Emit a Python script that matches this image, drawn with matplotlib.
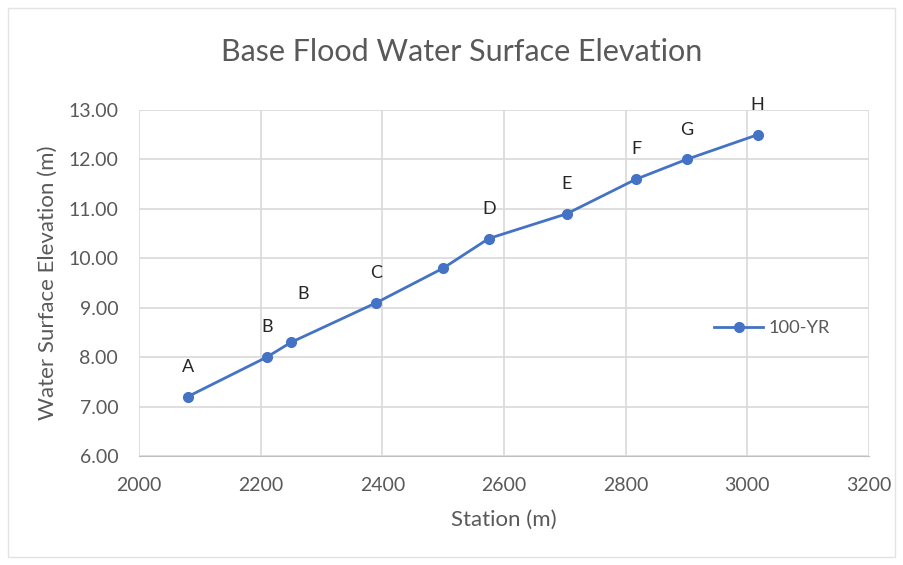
import matplotlib.pyplot as plt
from matplotlib.patches import Rectangle

station = [2080, 2210, 2250, 2390, 2500, 2575, 2703, 2817, 2900, 3017]
wse = [7.20, 8.00, 8.30, 9.10, 9.80, 10.40, 10.90, 11.60, 12.00, 12.50]
point_labels = ['A', 'B', 'B', 'C', '', 'D', 'E', 'F', 'G', 'H']
x_ticks = [2000, 2200, 2400, 2600, 2800, 3000, 3200]
y_ticks = [6, 7, 8, 9, 10, 11, 12, 13]

plt.rcParams['font.family'] = ['Lato', 'DejaVu Sans']

blue = '#4472C4'
grey_txt = '#595959'
grid_col = '#d9d9d9'

fig = plt.figure(figsize=(9.04, 5.65), dpi=100)
ax = fig.add_axes([139 / 904, 1 - 456 / 565, (869 - 139) / 904, (456 - 110) / 565])

# chart border
fig.patches.append(Rectangle((8 / 904, 8 / 565), 887 / 904, 549 / 565,
                             transform=fig.transFigure, fill=False,
                             edgecolor='#e3e3e3', linewidth=1.0))

ax.plot(station, wse, color=blue, linewidth=2.0, marker='o', markersize=7,
        markerfacecolor=blue, markeredgecolor=blue, label='100-YR', zorder=3)

# letters above the points (second B sits higher and to the right)
for i, (x, y, lab) in enumerate(zip(station, wse, point_labels)):
    if not lab:
        continue
    dx, dy = (8.5, 35) if i == 2 else (0, 21.5)
    ax.annotate(lab, (x, y), xytext=(dx, dy), textcoords='offset points',
                ha='center', va='center', fontsize=13, color='#262626')

ax.set_xlim(2000, 3200)
ax.set_ylim(6, 13)
ax.set_xticks(x_ticks)
ax.set_yticks(y_ticks)
ax.set_yticklabels(['{:.2f}'.format(v) for v in y_ticks])
ax.grid(True, color=grid_col, linewidth=1.2)
ax.set_axisbelow(True)
for s in ax.spines.values():
    s.set_visible(False)
ax.spines['bottom'].set_visible(True)
ax.spines['bottom'].set_color('#bfbfbf')
ax.tick_params(length=0, colors=grey_txt, labelsize=14)
ax.tick_params(axis='y', pad=15)
ax.tick_params(axis='x', pad=15)

ax.set_xlabel('Station (m)', fontsize=16, color=grey_txt)
ax.set_ylabel('Water Surface Elevation (m)', fontsize=16, color=grey_txt)
ax.xaxis.set_label_coords(0.5, (456 - 510) / 346)
ax.yaxis.set_label_coords((58 - 139) / 730, 0.5)
fig.text(462 / 904, 1 - 52 / 565, 'Base Flood Water Surface Elevation',
         ha='center', va='center', fontsize=22, color=grey_txt)

ax.legend(loc='center left', bbox_to_anchor=((714 - 139) / 730, (456 - 328) / 346),
          frameon=False, borderpad=0, borderaxespad=0, fontsize=13.2,
          labelcolor=grey_txt, handlelength=2.7, handletextpad=0.25)

fig.savefig('out.png', dpi=100)
